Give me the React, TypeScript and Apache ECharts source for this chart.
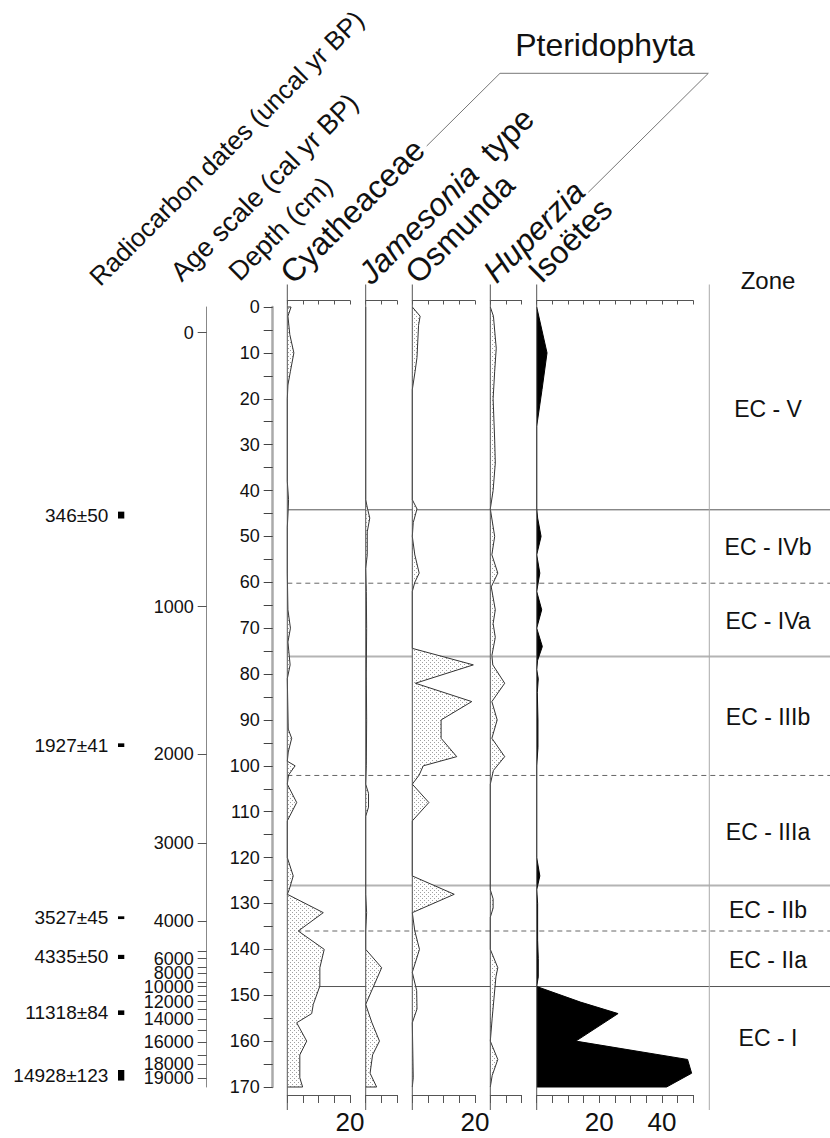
import React, { useEffect, useRef } from 'react';
import * as echarts from 'echarts';

const FONT = '"Liberation Sans", Arial, Helvetica, sans-serif';

// ---------------- DATA ----------------
// Cyatheaceae (%)
const cyatheaceaeDepth = [0, 2, 6, 10, 14, 17, 20, 38, 42, 44, 48, 58, 66, 70, 73, 78, 81, 92, 94, 97, 99, 100, 102, 104, 108, 112, 120, 124, 127, 128, 132, 136, 140, 144, 148, 152, 154, 156, 160, 163, 168, 170];
const cyatheaceaeValue = [1.2, 0.2, 0.8, 2.1, 1.0, 0.2, 0, 0, 0.4, 0.3, 0, 0, 0.2, 1.0, 0.2, 0.9, 0, 0.3, 1.4, 0.3, 0, 2.5, 0.4, 0, 3.0, 0, 0, 1.9, 0.6, 0, 11.5, 3.5, 11.8, 10.4, 10.4, 8.3, 7.8, 3.0, 6.2, 4.0, 4.0, 4.9];

// Jamesonia type (%)
const jamesoniaDepth = [0, 42, 44, 46, 49, 54, 57, 62, 70, 80, 90, 100, 104, 106, 109, 111, 128, 132, 136, 140, 144, 152, 153, 156, 160, 163, 167, 170];
const jamesoniaValue = [0, 0, 0.6, 1.3, 0.5, 0.5, 0, 0.2, 0.3, 0.2, 0.3, 0.2, 0, 0.9, 0.9, 0, 0, 0.3, 0, 0, 5.1, 0, 0.5, 2.0, 4.4, 2.2, 1.4, 3.5];

// Osmunda (%)
const osmundaDepth = [0, 2, 4, 11, 14, 18, 42, 44, 47, 50, 54, 58, 60, 62, 74.4, 78, 82, 86, 90, 94, 98, 100, 102, 104, 108, 112, 124, 128, 132, 136, 140, 145, 149, 153, 156, 168, 170];
const osmundaValue = [0, 2.5, 2.0, 1.5, 0.9, 0, 0, 1.5, 0.3, 0, 0.8, 2.2, 0.8, 0, 0, 19.5, 1.0, 19.0, 9.2, 9.2, 14.2, 3.5, 2.2, 0, 5.3, 0, 0, 13.4, 0, 0.8, 2.3, 0, 1.4, 1.5, 0, 0.3, 0];

// Huperzia (%)
const huperziaDepth = [0, 2, 9, 14, 20, 29, 34, 40, 44, 50, 54, 58, 61, 66, 69, 72, 76, 78, 82, 86, 90, 94, 98, 101, 104, 127, 129, 131, 133, 140, 144, 146, 155, 160, 164, 167.5, 170];
const huperziaValue = [0, 1.0, 1.9, 1.4, 0.9, 1.4, 1.6, 0.9, 0, 1.4, 0.5, 2.4, 0.3, 1.6, 0.9, 1.6, 0.5, 0.8, 4.6, 0.5, 2.2, 0.5, 4.6, 1.0, 0, 0, 0.9, 0.9, 0, 0, 2.4, 1.8, 0.6, 0, 2.4, 0.6, 0];

// Isoëtes (%)
const isoetesDepth = [0, 10, 18, 26, 44, 46, 50, 54, 58, 62, 66, 70, 74, 77, 79, 81, 84, 90, 96, 100, 120, 124, 127, 130, 138, 142, 146, 148.1, 151.5, 154, 160, 164, 167, 170];
const isoetesValue = [0, 3.3, 1.7, 0, 0, 0.3, 1.4, 0, 1.0, 0, 1.6, 0, 1.8, 0.3, 0, 0.5, 0.2, 0.4, 0.4, 0, 0, 1.0, 0, 0.3, 0.3, 0.5, 0.5, 0, 14, 26, 12.5, 48.2, 49.5, 41.5];

// Zones
const zoneBoundaryDepth = [44.2, 60.2, 76.2, 102.1, 126.1, 136, 148.1];
const zoneBoundaryKind = ['solid', 'dashed', 'light', 'dashed', 'light', 'dashed', 'solid'];
const zoneNames = ['EC - V', 'EC - IVb', 'EC - IVa', 'EC - IIIb', 'EC - IIIa', 'EC - IIb', 'EC - IIa', 'EC - I'];
const zoneLabelDepth = [22.2, 52.2, 68.4, 89.3, 114.4, 131.4, 142.3, 159.3];

// Age scale (cal yr BP): tick labels and the depth (cm) at which each sits
const ageTickLabels = ['0', '1000', '2000', '3000', '4000', '6000', '8000', '10000', '12000', '14000', '16000', '18000', '19000'];
const ageTickDepth = [5.6, 65.3, 97.4, 116.8, 133.8, 142.0, 145.2, 148.15, 151.4, 155.2, 160.3, 165.0, 168.05];
const ageMinorTickDepth = [140.5, 144.0, 147.1, 150.0, 153.1, 157.6, 163.0];

// Radiocarbon dates (uncal yr BP)
const radiocarbonLabels = ['346±50', '1927±41', '3527±45', '4335±50', '11318±84', '14928±123'];
const radiocarbonDepthTop = [44.6, 95.1, 132.8, 141.2, 153.3, 166.3];
const radiocarbonDepthBottom = [46.1, 95.9, 133.4, 142.1, 154.3, 168.6];

// ---------------- LAYOUT ----------------
const W = 830;
const H = 1138;
const GRID_TOP = 307;
const GRID_H = 780;
const PX_PER_PCT = 3.13;
const FRAME_TOP = 284.5;
const FRAME_BOTTOM = 1110;
const ZONE_LINE_X = 709.3;
const ZONE_LABEL_X = 768;
const OVERLAY_LEFT = 287.3;

export default function App() {
  const ref = useRef<HTMLDivElement>(null);

  useEffect(() => {
    if (!ref.current) return;
    const chart = echarts.init(ref.current, null, { renderer: 'svg' });

    let stipple: any = '#f0f0f0';
    try {
      const c = document.createElement('canvas');
      c.width = 4;
      c.height = 4;
      const ctx = c.getContext('2d');
      if (ctx) {
        ctx.fillStyle = '#ffffff';
        ctx.fillRect(0, 0, 4, 4);
        ctx.fillStyle = '#a0a0a0';
        ctx.fillRect(0, 0, 1, 1);
        ctx.fillRect(2, 2, 1, 1);
        stipple = { image: c.toDataURL(), repeat: 'repeat', imageWidth: 4, imageHeight: 4 };
      }
    } catch (e) {
      stipple = '#f0f0f0';
    }

    const panels = [
      { left: 287.3, max: 20, labels: [20], depth: cyatheaceaeDepth, value: cyatheaceaeValue, fill: stipple, stroke: '#333' },
      { left: 365.7, max: 10, labels: [] as number[], depth: jamesoniaDepth, value: jamesoniaValue, fill: stipple, stroke: '#333' },
      { left: 412.3, max: 20, labels: [20], depth: osmundaDepth, value: osmundaValue, fill: stipple, stroke: '#333' },
      { left: 490.3, max: 10, labels: [] as number[], depth: huperziaDepth, value: huperziaValue, fill: stipple, stroke: '#333' },
      { left: 536.7, max: 50, labels: [20, 40], depth: isoetesDepth, value: isoetesValue, fill: '#000', stroke: '#000' },
    ];

    const base = { top: GRID_TOP, height: GRID_H, outerBoundsMode: 'none' };
    const grids: any[] = [
      { ...base, left: 118, width: 6.3 },
      { ...base, left: 206.7, width: 1 },
      { ...base, left: 272.7, width: 1 },
      ...panels.map((p) => ({ ...base, left: p.left, width: p.max * PX_PER_PCT })),
      { ...base, left: OVERLAY_LEFT, width: W - OVERLAY_LEFT },
    ];
    const OVERLAY_GRID = 3 + panels.length;

    const hiddenX = (gi: number) => ({ gridIndex: gi, type: 'value', min: 0, max: 1, show: false });
    const xAxes: any[] = [hiddenX(0), hiddenX(1), hiddenX(2)];
    panels.forEach((p, k) => {
      const gi = 3 + k;
      xAxes.push({
        gridIndex: gi, type: 'value', min: 0, max: p.max, interval: 5, position: 'top', offset: 6.5,
        axisLine: { show: true, onZero: false, lineStyle: { color: '#555', width: 1 } },
        axisTick: { show: true, inside: true, length: 4, lineStyle: { color: '#555' } },
        axisLabel: { show: false }, splitLine: { show: false },
      });
      xAxes.push({
        gridIndex: gi, type: 'value', min: 0, max: p.max, interval: 5, position: 'bottom', offset: 8,
        axisLine: { show: true, onZero: false, lineStyle: { color: '#555', width: 1 } },
        axisTick: { show: true, inside: false, length: 8, lineStyle: { color: '#555' } },
        axisLabel: {
          show: true, margin: 14, fontSize: 26, fontFamily: FONT, color: '#111', showMinLabel: true, showMaxLabel: true,
          formatter: (v: number) => (p.labels.indexOf(v) >= 0 ? String(v) : ''),
        },
        splitLine: { show: false },
      });
    });
    xAxes.push(hiddenX(OVERLAY_GRID));
    const OVERLAY_X = xAxes.length - 1;

    const depthY = (gi: number, extra: any = {}) => ({
      gridIndex: gi, type: 'value', min: 0, max: 170, inverse: true, show: false,
      axisLine: { onZero: false }, splitLine: { show: false }, ...extra,
    });

    const ageLabelFor = (v: number) => {
      for (let i = 0; i < ageTickDepth.length; i++) {
        if (Math.abs(ageTickDepth[i] - v) < 1e-6) return ageTickLabels[i];
      }
      return '';
    };
    const lastAge = ageTickDepth.length - 1;

    const yAxes: any[] = [
      depthY(0),
      depthY(1, {
        show: true, position: 'left',
        axisLine: { show: true, onZero: false, lineStyle: { color: '#888', width: 1 } },
        axisTick: { show: true, length: 9, customValues: [...ageTickDepth, ...ageMinorTickDepth], lineStyle: { color: '#555' } },
        axisLabel: {
          show: true, margin: 13, fontSize: 18, fontFamily: FONT, color: '#111',
          customValues: ageTickDepth.slice(0, lastAge), hideOverlap: false,
          formatter: (v: number) => ageLabelFor(v),
        },
      }),
      depthY(2, {
        show: true, position: 'left', interval: 5,
        axisLine: { show: true, onZero: false, lineStyle: { color: '#aaa', width: 2.5 } },
        axisTick: { show: true, length: 9, lineStyle: { color: '#444' } },
        axisLabel: {
          show: true, margin: 13, fontSize: 18, fontFamily: FONT, color: '#111', showMinLabel: true, showMaxLabel: true,
          formatter: (v: number) => (v % 10 === 0 ? String(v) : ''),
        },
      }),
      ...panels.map((_, k) => depthY(3 + k)),
      depthY(OVERLAY_GRID),
      // second age axis on the same grid: carries only the last label, which would otherwise be culled
      depthY(1, {
        show: true, position: 'left', offset: 0,
        axisLine: { show: false, onZero: false },
        axisTick: { show: false },
        axisLabel: {
          show: true, margin: 13, fontSize: 18, fontFamily: FONT, color: '#111',
          customValues: ageTickDepth.slice(lastAge), hideOverlap: false,
          formatter: (v: number) => ageLabelFor(v),
        },
      }),
    ];

    const series: any[] = [];

    // zone boundary lines (under the curves)
    series.push({
      type: 'custom', coordinateSystem: 'cartesian2d', xAxisIndex: OVERLAY_X, yAxisIndex: OVERLAY_GRID, z: 1, silent: true,
      data: zoneBoundaryDepth.map((d) => [0, d]),
      renderItem: (params: any, api: any) => {
        const d = api.value(1);
        const kind = zoneBoundaryKind[params.dataIndex];
        const a = api.coord([0, d]);
        const b = api.coord([1, d]);
        const style = kind === 'dashed'
          ? { stroke: '#666', lineWidth: 1, lineDash: [5, 4] }
          : kind === 'light'
            ? { stroke: '#b4b4b4', lineWidth: 2 }
            : { stroke: '#555', lineWidth: 1 };
        return { type: 'line', shape: { x1: a[0], y1: a[1], x2: b[0], y2: b[1] }, style };
      },
    });

    // zone labels
    series.push({
      type: 'custom', coordinateSystem: 'cartesian2d', xAxisIndex: OVERLAY_X, yAxisIndex: OVERLAY_GRID, z: 5, silent: true,
      data: zoneLabelDepth.map((d) => [0, d]),
      renderItem: (params: any, api: any) => {
        const p = api.coord([0, api.value(1)]);
        return {
          type: 'text', x: ZONE_LABEL_X, y: p[1],
          style: { text: zoneNames[params.dataIndex], textAlign: 'center', textVerticalAlign: 'middle', fontSize: 23, fontFamily: FONT, fill: '#111' },
        };
      },
    });

    // profiles
    panels.forEach((p, k) => {
      series.push({
        type: 'custom', coordinateSystem: 'cartesian2d', xAxisIndex: 4 + 2 * k, yAxisIndex: 3 + k, z: 3, silent: true,
        data: p.depth.map((d, i) => [p.value[i], d]),
        renderItem: (params: any, api: any) => {
          if (params.dataIndex !== 0) return null;
          const pts = p.depth.map((d, i) => api.coord([p.value[i], d]));
          const b0 = api.coord([0, p.depth[0]]);
          const b1 = api.coord([0, p.depth[p.depth.length - 1]]);
          const poly = [b0, ...pts, b1];
          return {
            type: 'group',
            children: [
              { type: 'polygon', shape: { points: poly }, style: { fill: p.fill, stroke: 'none' } },
              { type: 'polyline', shape: { points: poly }, style: { fill: 'none', stroke: p.stroke, lineWidth: 1 } },
            ],
          };
        },
      });
    });

    // radiocarbon dates
    series.push({
      type: 'custom', coordinateSystem: 'cartesian2d', xAxisIndex: 0, yAxisIndex: 0, z: 3, silent: true,
      data: radiocarbonDepthTop.map((d, i) => [0.5, (d + radiocarbonDepthBottom[i]) / 2]),
      renderItem: (params: any, api: any) => {
        const i = params.dataIndex;
        const a = api.coord([0, radiocarbonDepthTop[i]]);
        const b = api.coord([1, radiocarbonDepthBottom[i]]);
        const mid = (a[1] + b[1]) / 2;
        return {
          type: 'group',
          children: [
            { type: 'rect', shape: { x: a[0], y: a[1], width: b[0] - a[0], height: Math.max(2, b[1] - a[1]) }, style: { fill: '#000' } },
            { type: 'text', x: a[0] - 9.7, y: mid, style: { text: radiocarbonLabels[i], textAlign: 'right', textVerticalAlign: 'middle', fontSize: 19, fontFamily: FONT, fill: '#111' } },
          ],
        };
      },
    });

    const headers = [
      { text: 'Radiocarbon dates (uncal yr BP)', x: 103, y: 290, size: 26 },
      { text: 'Age scale (cal yr BP)', x: 185, y: 286, size: 27 },
      { text: 'Depth (cm)', x: 243, y: 285.5, size: 27 },
      { text: 'Cyatheaceae', x: 297, y: 289, size: 32 },
      { text: '{i|Jamesonia}  type', x: 375, y: 289.5, size: 32 },
      { text: 'Osmunda', x: 422, y: 289, size: 32 },
      { text: '{i|Huperzia}', x: 500, y: 288, size: 32 },
      { text: 'Isoëtes', x: 545, y: 288, size: 32 },
    ];

    const graphic: any[] = headers.map((h) => ({
      type: 'text', x: h.x, y: h.y, rotation: Math.PI / 4, z: 10, silent: true,
      style: {
        text: h.text, fontSize: h.size, fontFamily: FONT, fill: '#111', textAlign: 'left', textVerticalAlign: 'bottom',
        rich: { i: { fontStyle: 'italic', fontSize: h.size, fontFamily: FONT, fill: '#111' } },
      },
    }));

    graphic.push({
      type: 'text', x: 605, y: 45, z: 10, silent: true,
      style: { text: 'Pteridophyta', fontSize: 32, fontFamily: FONT, fill: '#111', textAlign: 'center', textVerticalAlign: 'middle' },
    });
    graphic.push({
      type: 'polyline', z: 10, silent: true,
      shape: { points: [[426.7, 146], [500, 73.3], [708.3, 73.3], [588.3, 192.3]] },
      style: { stroke: '#777', lineWidth: 1, fill: 'none' },
    });
    graphic.push({
      type: 'text', x: ZONE_LABEL_X, y: 280, z: 10, silent: true,
      style: { text: 'Zone', fontSize: 24, fontFamily: FONT, fill: '#111', textAlign: 'center', textVerticalAlign: 'middle' },
    });
    panels.forEach((p) => {
      graphic.push({
        type: 'line', z: 10, silent: true,
        shape: { x1: p.left, y1: FRAME_TOP, x2: p.left, y2: FRAME_BOTTOM },
        style: { stroke: '#555', lineWidth: 1 },
      });
    });
    graphic.push({
      type: 'line', z: 10, silent: true,
      shape: { x1: ZONE_LINE_X, y1: FRAME_TOP, x2: ZONE_LINE_X, y2: FRAME_BOTTOM },
      style: { stroke: '#aaa', lineWidth: 1 },
    });

    chart.setOption({
      animation: false,
      backgroundColor: '#fff',
      grid: grids,
      xAxis: xAxes,
      yAxis: yAxes,
      series,
      graphic: { elements: graphic },
    });

    return () => chart.dispose();
  }, []);

  return <div ref={ref} style={{ position: 'absolute', left: 0, top: 0, width: W, height: H, background: '#fff' }} />;
}
